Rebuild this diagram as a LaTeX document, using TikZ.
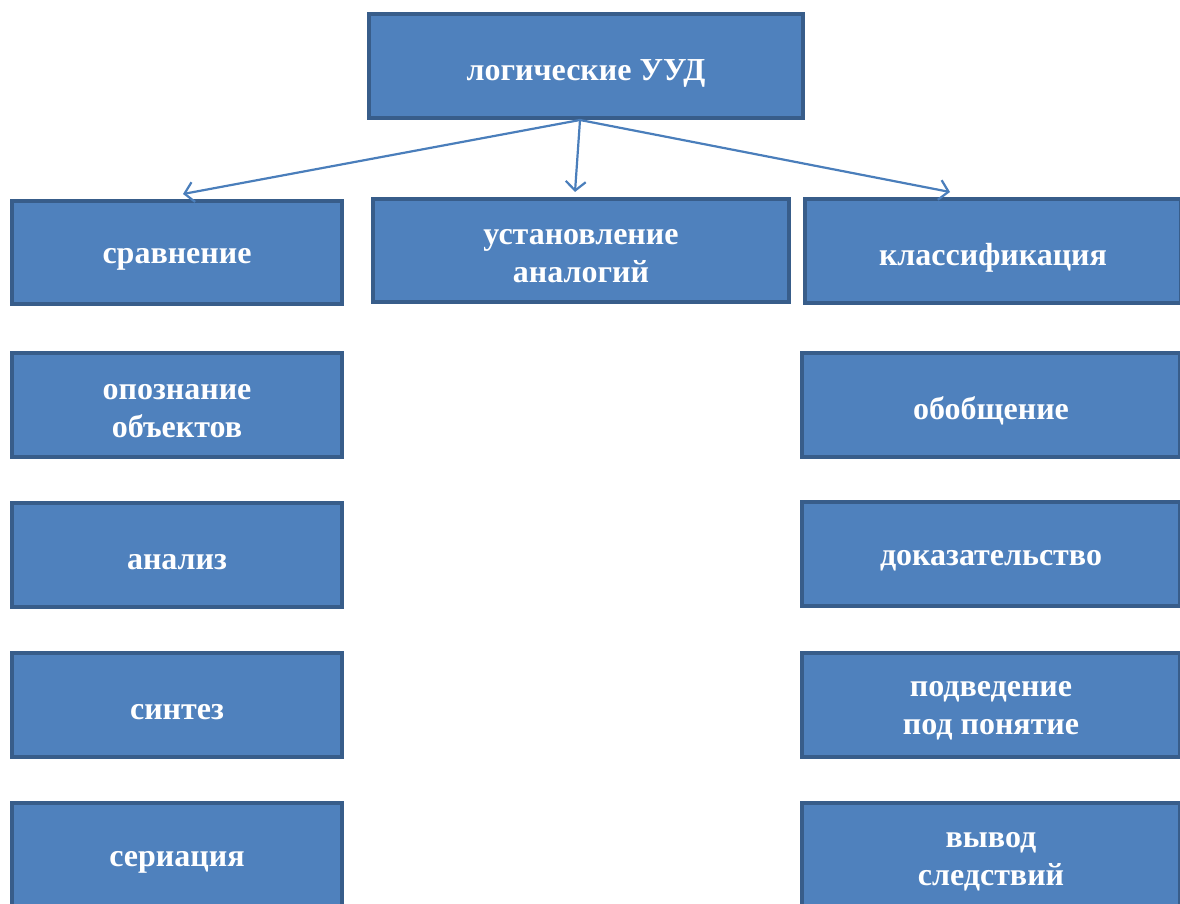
\documentclass[tikz,border=0pt]{standalone}
\usepackage{fontspec}
\setmainfont{Liberation Serif}
\usetikzlibrary{arrows.meta}
\definecolor{boxfill}{HTML}{4F81BD}
\definecolor{boxline}{HTML}{385D8A}
\definecolor{arrowc}{HTML}{4A7EBB}
\tikzset{
  ubox/.style={draw=boxline, fill=boxfill, line width=4pt, inner sep=0pt,
    minimum height=104pt},
  utext/.style={text=white, font=\bfseries\fontsize{32}{38}\selectfont,
    align=center, inner sep=0pt},
  conn/.style={draw=arrowc, line width=2.2pt, -{Straight Barb[length=9pt,width=20pt,line width=2.2pt]}}
}
\begin{document}
\begin{tikzpicture}[x=1pt,y=-1pt]
\useasboundingbox (0,0) rectangle (1180,904);
\clip (0,0) rectangle (1180,904);
\node[ubox, minimum width=434pt] (top) at (586,66) {};
\node[ubox, minimum width=330pt, minimum height=103pt] (srav) at (177,252.5) {};
\node[ubox, minimum width=416pt, minimum height=103pt] (ust) at (581,250.5) {};
\node[ubox, minimum width=376pt] (klass) at (993,251) {};
\node[ubox, minimum width=330pt] (opozn) at (177,405) {};
\node[ubox, minimum width=330pt] (anal) at (177,555) {};
\node[ubox, minimum width=330pt] (sint) at (177,705) {};
\node[ubox, minimum width=330pt] (ser) at (177,855) {};
\node[ubox, minimum width=378pt] (obob) at (991,405) {};
\node[ubox, minimum width=378pt] (dok) at (991,554) {};
\node[ubox, minimum width=378pt] (podv) at (991,705) {};
\node[ubox, minimum width=378pt] (vyv) at (991,855) {};
\node[utext] (top-t) at ([yshift=-7pt]top.center) {логические УУД};
\node[utext] (srav-t) at ([yshift=-7pt]srav.center) {сравнение};
\node[utext] (ust-t) at ([yshift=-6pt]ust.center) {установление\\аналогий};
\node[utext] (klass-t) at ([yshift=-7pt]klass.center) {классификация};
\node[utext] (opozn-t) at ([yshift=-6pt]opozn.center) {опознание\\объектов};
\node[utext] (anal-t) at ([yshift=-7pt]anal.center) {анализ};
\node[utext] (sint-t) at ([yshift=-7pt]sint.center) {синтез};
\node[utext] (ser-t) at ([yshift=-7pt]ser.center) {сериация};
\node[utext] (obob-t) at ([yshift=-6pt]obob.center) {обобщение};
\node[utext] (dok-t) at ([yshift=-7pt]dok.center) {доказательство};
\node[utext] (podv-t) at ([yshift=-6pt]podv.center) {подведение\\под понятие};
\node[utext] (vyv-t) at ([yshift=-7pt]vyv.center) {вывод\\следствий};
\draw[conn] ([xshift=-6pt]top.south) -- ([xshift=6pt,yshift=5pt]srav.north);
\draw[conn] ([xshift=-6pt]top.south) -- ([xshift=-6pt,yshift=5pt]ust.north);
\draw[conn] ([xshift=-6pt]top.south) -- ([xshift=-43pt,yshift=5pt]klass.north);
\end{tikzpicture}
\end{document}
